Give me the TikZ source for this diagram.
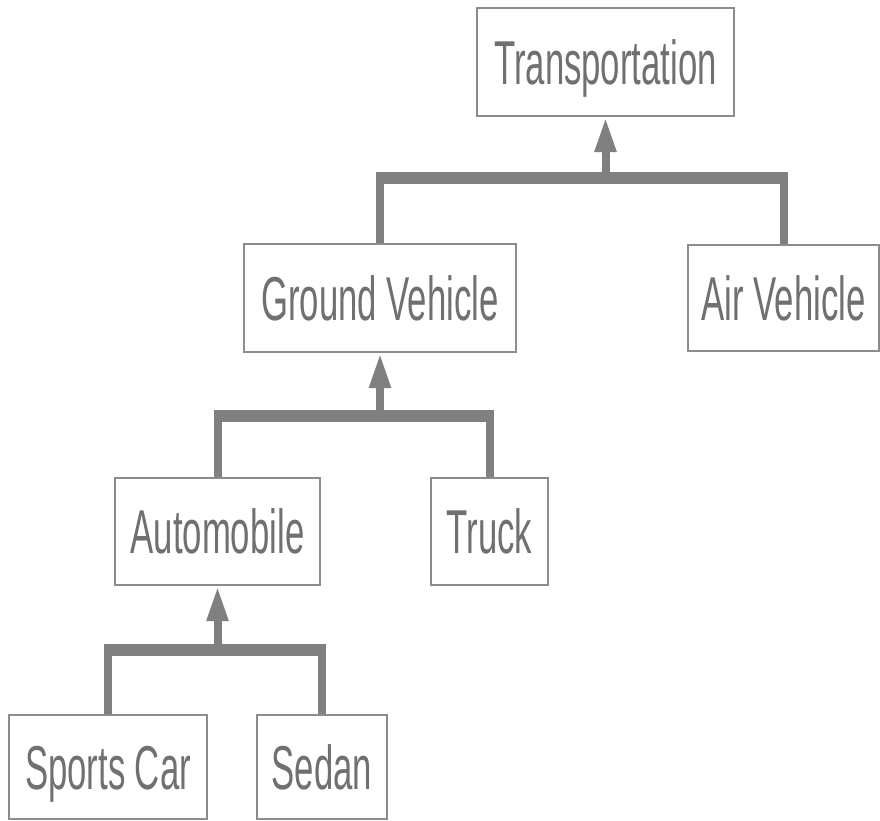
\documentclass[tikz,border=0pt]{standalone}
\usepackage{graphicx}
\usepackage{fontspec}
\setmainfont{Liberation Sans}
\usetikzlibrary{arrows.meta}
\definecolor{txtgray}{HTML}{707070}
\definecolor{boxgray}{HTML}{8C8C8C}
\definecolor{lingray}{HTML}{808080}
\newcommand\sqz[1]{\scalebox{0.56}[1]{#1}}
\tikzset{
  cls/.style={draw=boxgray, line width=2pt, fill=white, inner sep=0pt,
    text=txtgray, font=\fontsize{62}{70}\selectfont, text height=44pt, text depth=0pt},
  hbar/.style={draw=lingray, line width=12pt, line cap=butt},
  vbar/.style={draw=lingray, line width=8pt, line cap=butt},
  uparrow/.style={draw=lingray, line width=8pt, -{Triangle[length=35pt,width=20pt]}}
}
\begin{document}
\begin{tikzpicture}[x=1pt,y=-1pt]
\useasboundingbox (0,0) rectangle (880,820);
% nodes
\node[cls, minimum width=257pt, minimum height=108pt] (tr) at (605.5,62) {\sqz{Transportation}};
\node[cls, minimum width=272pt, minimum height=108pt] (gv) at (380,298) {\sqz{Ground Vehicle}};
\node[cls, minimum width=191pt, minimum height=106pt] (av) at (783.5,298) {\sqz{Air Vehicle}};
\node[cls, minimum width=205pt, minimum height=107pt] (au) at (217.5,531.5) {\sqz{Automobile}};
\node[cls, minimum width=117pt, minimum height=107pt] (tk) at (489.5,531.5) {\sqz{Truck}};
\node[cls, minimum width=198pt, minimum height=104pt] (sc) at (108,767) {\sqz{Sports Car}};
\node[cls, minimum width=130pt, minimum height=104pt] (sd) at (322,767) {\sqz{Sedan}};
% junctions
\coordinate (j1) at (605.5,178);
\coordinate (j2) at (380,416);
\coordinate (j3) at (217.5,650);
% level 1
\draw[vbar] (gv.north) -- ([yshift=6pt]gv.north |- j1);
\draw[vbar] (av.north) -- ([yshift=6pt]av.north |- j1);
\draw[hbar] ([xshift=-4pt]gv.north |- j1) -- ([xshift=4pt]av.north |- j1);
\draw[uparrow] (j1) -- (tr.south);
% level 2
\draw[vbar] (au.north) -- ([yshift=6pt]au.north |- j2);
\draw[vbar] (tk.north) -- ([yshift=6pt]tk.north |- j2);
\draw[hbar] ([xshift=-4pt]au.north |- j2) -- ([xshift=4pt]tk.north |- j2);
\draw[uparrow] (j2) -- (gv.south);
% level 3
\draw[vbar] (sc.north) -- ([yshift=6pt]sc.north |- j3);
\draw[vbar] (sd.north) -- ([yshift=6pt]sd.north |- j3);
\draw[hbar] ([xshift=-4pt]sc.north |- j3) -- ([xshift=4pt]sd.north |- j3);
\draw[uparrow] (j3) -- (au.south);
\end{tikzpicture}
\end{document}
